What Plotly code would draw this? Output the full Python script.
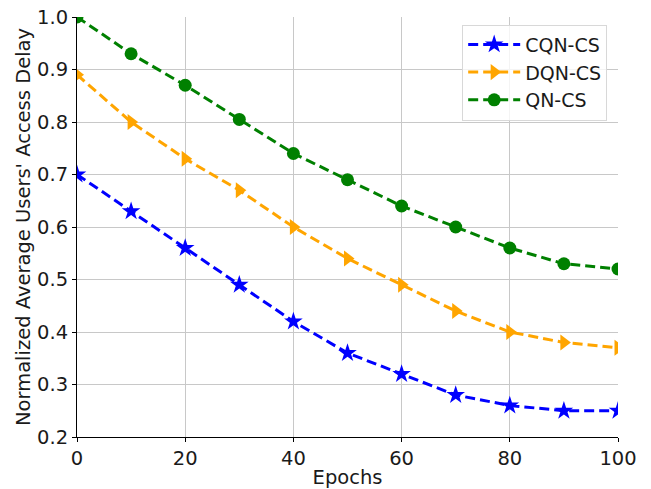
import plotly.graph_objects as go

epochs = [0, 10, 20, 30, 40, 50, 60, 70, 80, 90, 100]
cqn_cs = [0.70, 0.63, 0.56, 0.49, 0.42, 0.36, 0.32, 0.28, 0.26, 0.25, 0.25]
dqn_cs = [0.89, 0.80, 0.73, 0.67, 0.60, 0.54, 0.49, 0.44, 0.40, 0.38, 0.37]
qn_cs = [1.00, 0.93, 0.87, 0.805, 0.74, 0.69, 0.64, 0.60, 0.56, 0.53, 0.52]

series = [
    ("CQN-CS", cqn_cs, "#0000ff", "star", 14),
    ("DQN-CS", dqn_cs, "#ffa500", "triangle-right", 14),
    ("QN-CS", qn_cs, "#008000", "circle", 13),
]

fig = go.Figure()
for name, vals, color, symbol, size in series:
    fig.add_trace(go.Scatter(
        x=epochs, y=vals, name=name, mode="lines+markers",
        line=dict(color=color, width=3, dash="10px,5px"),
        marker=dict(symbol=symbol, size=size, color=color, line=dict(width=0)),
        cliponaxis=True,
    ))

font = dict(family="DejaVu Sans", size=19.5, color="#1a1a1a")
fig.update_layout(
    width=651, height=489,
    margin=dict(l=77, r=33, t=17, b=52),
    paper_bgcolor="white", plot_bgcolor="white",
    font=font,
    legend=dict(
        x=0.98, y=0.982, xanchor="right", yanchor="top",
        bgcolor="rgba(255,255,255,0.8)", bordercolor="#d8d8d8", borderwidth=1,
        font=dict(family="DejaVu Sans", size=19, color="#1a1a1a"),
        itemwidth=52, tracegroupgap=0,
    ),
    xaxis=dict(
        range=[0, 100], tickvals=[0, 20, 40, 60, 80, 100],
        showgrid=True, gridcolor="#c8c8c8", gridwidth=1,
        showline=True, linecolor="black", linewidth=1, mirror=False,
        ticks="outside", ticklen=4, tickcolor="black",
        title=dict(text="Epochs", font=font, standoff=1),
        zeroline=False, automargin=False,
    ),
    yaxis=dict(
        range=[0.2, 1.0], tickvals=[0.2, 0.3, 0.4, 0.5, 0.6, 0.7, 0.8, 0.9, 1.0],
        tickformat=".1f",
        showgrid=True, gridcolor="#c8c8c8", gridwidth=1,
        showline=True, linecolor="black", linewidth=1,
        ticks="outside", ticklen=4, tickcolor="black",
        title=dict(text="Normalized Average Users' Access Delay", font=font, standoff=1),
        zeroline=False, automargin=False,
    ),
)

fig.write_html("out.html")
